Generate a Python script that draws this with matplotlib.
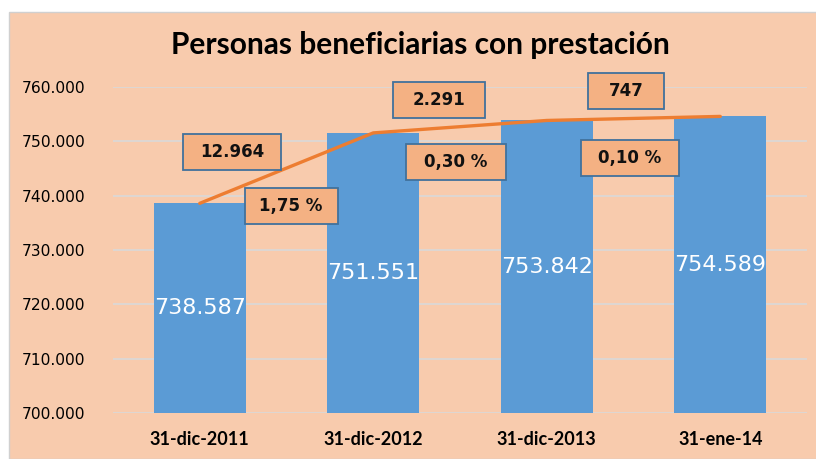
import matplotlib.pyplot as plt
from matplotlib.patches import Rectangle
from matplotlib.ticker import FuncFormatter

# datos
fechas = ["31-dic-2011", "31-dic-2012", "31-dic-2013", "31-ene-14"]
beneficiarios = [738587, 751551, 753842, 754589]
variacion = ["12.964", "2.291", "747"]
porcentaje = ["1,75 %", "0,30 %", "0,10 %"]

fondo = "#F8CBAD"
caja = "#F4B183"
borde = "#41719C"
azul = "#5B9BD5"
naranja = "#ED7D31"


def miles(v, pos=None):
    return f"{int(round(v)):,}".replace(",", ".")


fig = plt.figure(figsize=(8.16, 4.59), dpi=100)
fig.patch.set_facecolor("white")
fig.patches.append(Rectangle((9 / 816, 0), 1, 1 - 12 / 459, transform=fig.transFigure,
                             facecolor=fondo, edgecolor="#D0D0D0", lw=1, zorder=-5))

ax = fig.add_axes([113 / 816, 1 - 413 / 459, (807 - 113) / 816, (413 - 87) / 459])
ax.set_zorder(2)
ax.patch.set_alpha(0)

x = list(range(len(fechas)))
ax.bar(x, beneficiarios, width=0.53, color=azul, zorder=2)
ax.plot(x, beneficiarios, color=naranja, lw=2.4, zorder=3, solid_capstyle="round")

ax.set_xlim(-0.5, 3.5)
ax.set_ylim(700000, 760000)
ax.set_yticks(range(700000, 760001, 10000))
ax.yaxis.set_major_formatter(FuncFormatter(miles))
ax.grid(axis="y", color="#D9D9D9", lw=1.2, zorder=1)
for s in ax.spines.values():
    s.set_visible(False)
ax.tick_params(length=0)
ax.tick_params(axis="y", pad=20, labelsize=11.2)
ax.set_xticks(x)
ax.set_xticklabels(fechas, fontfamily="Lato", fontweight="bold", fontsize=13)
ax.tick_params(axis="x", pad=13)

# etiquetas dentro de las barras
for xi, v in zip(x, beneficiarios):
    ax.text(xi, (700000 + v) / 2, miles(v), ha="center", va="center",
            color="white", fontsize=16, zorder=4)

# cajas de variacion
cajas_var = [(0.187, 748040, 0.565), (1.38, 757610, 0.53), (2.458, 759270, 0.44)]
cajas_pct = [(0.527, 738100, 0.535), (1.478, 746200, 0.575), (2.48, 746935, 0.565)]
alto = 6600


def dibuja_caja(cx, cy, w, texto):
    ax.add_patch(Rectangle((cx - w / 2, cy - alto / 2), w, alto, facecolor=caja,
                           edgecolor=borde, lw=1.3, zorder=5, clip_on=False))
    ax.text(cx, cy, texto, ha="center", va="center", fontsize=12,
            fontweight="bold", color="#111111", zorder=6, clip_on=False)


for (cx, cy, w), t in zip(cajas_var, variacion):
    dibuja_caja(cx, cy, w, t)
for (cx, cy, w), t in zip(cajas_pct, porcentaje):
    dibuja_caja(cx, cy, w, t)

fig.text(420 / 816, 1 - 45 / 459, "Personas beneficiarias con prestación",
         ha="center", va="center", fontsize=21.5, fontweight="bold", fontfamily="Lato")

fig.savefig("out.png", dpi=100)
